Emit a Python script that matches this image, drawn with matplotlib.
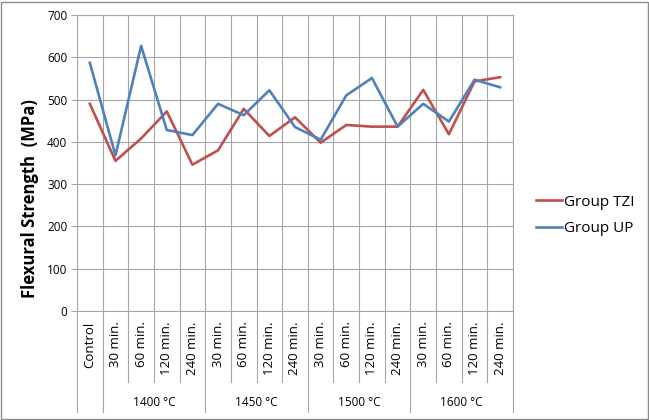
import numpy as np
import matplotlib
matplotlib.use("Agg")
import matplotlib.pyplot as plt
from matplotlib.patches import Rectangle

minutes = ["Control",
           "30 min.", "60 min.", "120 min.", "240 min.",
           "30 min.", "60 min.", "120 min.", "240 min.",
           "30 min.", "60 min.", "120 min.", "240 min.",
           "30 min.", "60 min.", "120 min.", "240 min."]
groups = ["1400 °C", "1450 °C", "1500 °C", "1600 °C"]

tzi = [490, 355, 408, 472, 346, 380, 478, 414, 458, 398, 440, 436, 436, 523, 418, 543, 553]
up = [587, 368, 627, 428, 416, 490, 463, 522, 435, 405, 510, 551, 436, 490, 448, 547, 529]

plt.rcParams['font.family'] = ['Open Sans', 'DejaVu Sans']
grid_col = '#a6a6a6'

fig = plt.figure(figsize=(6.49, 4.2), dpi=100)
ax = fig.add_axes([77/649, (420-311)/420, 436/649, 296/420])

x = np.arange(len(minutes))
ax.plot(x, tzi, color='#c0504d', lw=1.9, label='Group TZI')
ax.plot(x, up, color='#4f81bd', lw=1.9, label='Group UP')

ax.set_xlim(-0.5, len(minutes) - 0.5)
ax.set_ylim(0, 700)
ax.set_yticks(np.arange(0, 701, 100))
ax.set_xticks(np.arange(-0.5, len(minutes), 1))
ax.set_xticklabels([])
ax.tick_params(axis='x', length=0)
ax.tick_params(axis='y', length=4, color=grid_col, labelsize=8.5, pad=3)
ax.grid(True, color=grid_col, lw=0.8)
ax.set_axisbelow(True)
for s in ax.spines.values():
    s.set_color(grid_col)
    s.set_linewidth(0.8)

# category labels below the axis
tr = ax.get_xaxis_transform()
for i, lab in enumerate(minutes):
    ax.text(i, -0.035, lab, rotation=90, ha='center', va='top', fontsize=9.5, transform=tr)

# separators
group_edges = [-0.5, 0.5, 4.5, 8.5, 12.5, 16.5]
for b in np.arange(-0.5, len(minutes), 1):
    y_end = -0.341 if b in group_edges else -0.24
    ax.plot([b, b], [0, y_end], color=grid_col, lw=0.8, transform=tr, clip_on=False)

for k, g in enumerate(groups):
    ax.text(2.5 + 4 * k, -0.31, g, ha='center', va='center', fontsize=8.5, transform=tr)

ax.text(-47/436, 0.38, 'Flexural Strength  (MPa)', rotation=90, ha='center', va='center',
        fontsize=12, fontweight='bold', transform=ax.transAxes)

fig.legend(loc='upper left', bbox_to_anchor=(522/649, 1 - 181/420), frameon=False,
           fontsize=11, handlelength=1.75, handletextpad=0.1, labelspacing=0.75)

fig.patches.append(Rectangle((1/649, 1/420), 647/649, 417/420, transform=fig.transFigure,
                             fill=False, edgecolor='#8c8c8c', lw=1))

fig.savefig('out.png', dpi=100)
